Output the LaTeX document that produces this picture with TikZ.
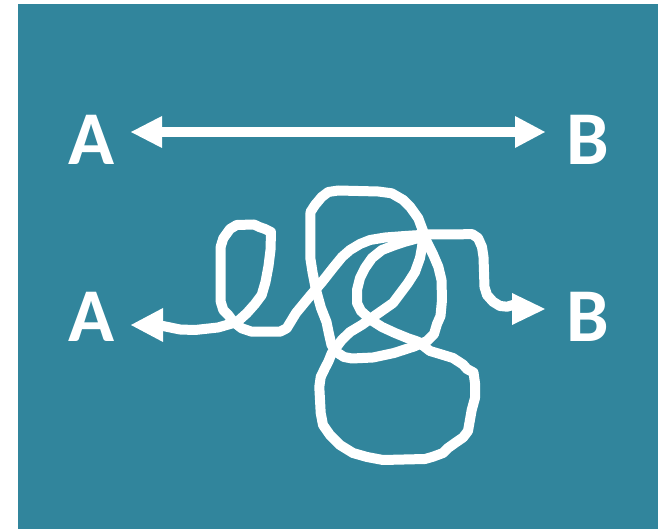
\documentclass[tikz,border=0pt]{standalone}
\usepackage{fontspec}
\setmainfont{Carlito}
\definecolor{teal1}{HTML}{31859C}
\tikzset{
  lbl/.style={text=white, inner sep=0pt, font=\fontsize{76}{76}\selectfont\bfseries},
  shaft/.style={draw=white, line width=10pt},
  scrib/.style={draw=white, line width=10pt, line join=round, line cap=round},
  head/.style={fill=white, draw=none}
}
\begin{document}
\begin{tikzpicture}[x=1pt,y=-1pt]
\useasboundingbox (0,0) rectangle (662,529);
\fill[teal1] (18,4) rectangle (658,529);
% labels
\node[lbl] (A1) at (91.5,139.5) {A};
\node[lbl] (B1) at (588,139.5) {B};
\node[lbl] (A2) at (91.5,316.5) {A};
\node[lbl] (B2) at (588,316.5) {B};
% top double arrow
\coordinate (t1) at (131,132);
\coordinate (t1b) at (162,132);
\coordinate (t2) at (545,132);
\coordinate (t2b) at (515,132);
\draw[shaft] (t1b) -- (t2b);
\fill[head] (t1) -- ([yshift=-16pt]t1b) -- ([yshift=16pt]t1b) -- cycle;
\fill[head] (t2) -- ([yshift=-16pt]t2b) -- ([yshift=16pt]t2b) -- cycle;
% bottom arrow heads
\coordinate (b1) at (131,325);
\coordinate (b1b) at (163,325);
\coordinate (b2) at (545,309);
\coordinate (b2b) at (512,309);
\fill[head] (b1) -- ([yshift=-17pt]b1b) -- ([yshift=17pt]b1b) -- cycle;
\fill[head] (b2) -- ([yshift=-16pt]b2b) -- ([yshift=16pt]b2b) -- cycle;
% scribble: stroke 1
\draw[scrib] (163,326) -- (180,329.5) -- (195,330) -- (218,327.5) -- (237,322) -- (246.7,313.3) -- (255,304) -- (261.7,295) -- (265.5,282) -- (268.5,266) -- (270.5,250) -- (271,232) -- (265,229) -- (259.3,227) -- (254,224.5) -- (236.7,225) -- (230,229) -- (223.3,238.3) -- (220.7,246.7) -- (220.7,301.7) -- (223.3,310) -- (228.3,315) -- (233.3,321.7) -- (241.7,328.3) -- (251.7,331.7) -- (280,331.7) -- (286.7,328.3) -- (296,313) -- (310,296) -- (322,282) -- (333,268) -- (342,257) -- (350,250) -- (360,244) -- (370,240) -- (385,237.5) -- (405,236) -- (428,234.5) -- (455,234.5) -- (472,234) -- (478,238) -- (482,247) -- (483.5,257) -- (484.5,287) -- (487,295) -- (493,301.7) -- (500,306) -- (507,306.7) -- (513,305);
% stroke 2: tall loop
\draw[scrib] (423.3,231.7) -- (418.3,218.3) -- (410,206.7) -- (403.3,200) -- (391.7,193.3) -- (378.3,191.5) -- (338.3,190.5) -- (328.3,192) -- (321.7,197) -- (315,205) -- (310.5,212) -- (310.3,258) -- (312.5,272) -- (316,290) -- (321,308) -- (326.5,322) -- (329,334) -- (331.5,345) -- (337,352.5) -- (344,357) -- (352,358.5) -- (373,357.5) -- (394,353) -- (414,346.5) -- (427,341) -- (434,334) -- (437,324) -- (440.5,316) -- (442,300) -- (441.5,280) -- (438.3,266.7) -- (433.3,255) -- (426.7,241.7) -- cycle;
% stroke 3: inner circle, big circle, diagonal
\draw[scrib] (423,234) -- (415,239) -- (405,241.7) -- (395,245) -- (382,250) -- (372,258) -- (365,268) -- (360,278) -- (357,290) -- (357,303) -- (361,311) -- (371,320) -- (382,327) -- (395,333) -- (408,338.3) -- (418,341.7) -- (430,351) -- (440,354) -- (453,358) -- (463,364.5) -- (467,369) -- (473.5,372.5) -- (475,383) -- (475,398) -- (471.7,410) -- (468,431) -- (463,437.5) -- (455,443) -- (448,448) -- (443,453) -- (433,456.7) -- (425,459) -- (383,460) -- (367,457) -- (353,453) -- (340,445) -- (330,435) -- (323,425) -- (320.7,413) -- (319.3,387) -- (320.7,377) -- (325,368) -- (328.3,361.7) -- (331.7,353.3) -- (336.7,346.7) -- (341.7,340) -- (350,332) -- (361.7,325) -- (373,317) -- (383,310) -- (393,303) -- (399,295) -- (408,283) -- (415,272) -- (420,258) -- (422,247) -- (423,238);
\end{tikzpicture}
\end{document}
